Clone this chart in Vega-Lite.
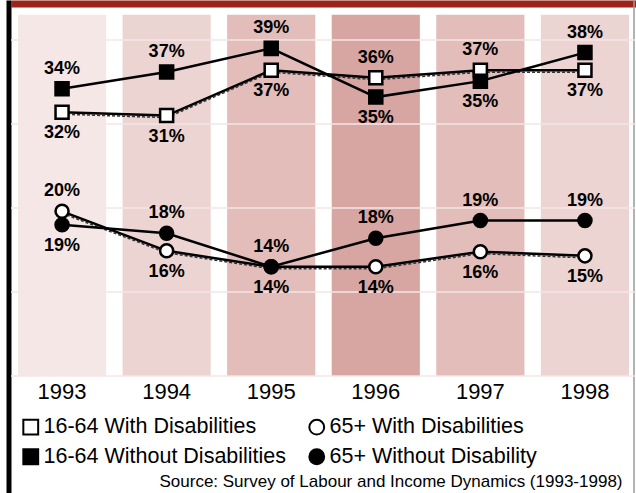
{
  "$schema": "https://vega.github.io/schema/vega-lite/v6.json",
  "width": 625,
  "height": 493,
  "autosize": {"type": "none"},
  "padding": {"left": 11, "top": 0, "right": 0, "bottom": 0},
  "background": "white",
  "config": {"view": {"stroke": null}, "font": "Liberation Sans"},
  "datasets": {
    "bands": [
      {"year": "1993", "shade": 1},
      {"year": "1994", "shade": 2},
      {"year": "1995", "shade": 3},
      {"year": "1996", "shade": 4},
      {"year": "1997", "shade": 3},
      {"year": "1998", "shade": 2}
    ],
    "grid": [{"g": 0}, {"g": 10}, {"g": 20}, {"g": 30}, {"g": 40}],
    "series": [
      {"year": "1993", "series": "16-64 With Disabilities", "value": 31.4, "label": "32%", "pos": "below"},
      {"year": "1994", "series": "16-64 With Disabilities", "value": 31.0, "label": "31%", "pos": "below"},
      {"year": "1995", "series": "16-64 With Disabilities", "value": 36.4, "label": "37%", "pos": "below"},
      {"year": "1996", "series": "16-64 With Disabilities", "value": 35.5, "label": "36%", "pos": "above"},
      {"year": "1997", "series": "16-64 With Disabilities", "value": 36.4, "label": "37%", "pos": "above"},
      {"year": "1998", "series": "16-64 With Disabilities", "value": 36.4, "label": "37%", "pos": "below"},
      {"year": "1993", "series": "65+ With Disabilities", "value": 19.6, "label": "20%", "pos": "above"},
      {"year": "1994", "series": "65+ With Disabilities", "value": 14.9, "label": "16%", "pos": "below"},
      {"year": "1995", "series": "65+ With Disabilities", "value": 13.0, "label": "14%", "pos": "above"},
      {"year": "1996", "series": "65+ With Disabilities", "value": 13.0, "label": "14%", "pos": "below"},
      {"year": "1997", "series": "65+ With Disabilities", "value": 14.8, "label": "16%", "pos": "below"},
      {"year": "1998", "series": "65+ With Disabilities", "value": 14.3, "label": "15%", "pos": "below"},
      {"year": "1993", "series": "16-64 Without Disabilities", "value": 34.2, "label": "34%", "pos": "above"},
      {"year": "1994", "series": "16-64 Without Disabilities", "value": 36.2, "label": "37%", "pos": "above"},
      {"year": "1995", "series": "16-64 Without Disabilities", "value": 39.0, "label": "39%", "pos": "above"},
      {"year": "1996", "series": "16-64 Without Disabilities", "value": 33.2, "label": "35%", "pos": "below"},
      {"year": "1997", "series": "16-64 Without Disabilities", "value": 35.1, "label": "35%", "pos": "below"},
      {"year": "1998", "series": "16-64 Without Disabilities", "value": 38.5, "label": "38%", "pos": "above"},
      {"year": "1993", "series": "65+ Without Disability", "value": 18.0, "label": "19%", "pos": "below"},
      {"year": "1994", "series": "65+ Without Disability", "value": 17.0, "label": "18%", "pos": "above"},
      {"year": "1995", "series": "65+ Without Disability", "value": 13.0, "label": "14%", "pos": "below"},
      {"year": "1996", "series": "65+ Without Disability", "value": 16.4, "label": "18%", "pos": "above"},
      {"year": "1997", "series": "65+ Without Disability", "value": 18.5, "label": "19%", "pos": "above"},
      {"year": "1998", "series": "65+ Without Disability", "value": 18.5, "label": "19%", "pos": "above"}
    ]
  },
  "resolve": {"axis": {"x": "independent", "y": "independent"}},
  "layer": [
    {
      "data": {"name": "bands"},
      "mark": {"type": "bar"},
      "encoding": {
        "x": {
          "field": "year", "type": "ordinal",
          "scale": {"paddingInner": 0.157, "paddingOuter": 0.0667},
          "axis": {
            "orient": "bottom", "offset": -117, "domain": false, "ticks": false, "tickSize": 0,
            "labelAngle": 0, "labelFontSize": 22, "labelColor": "black", "labelPadding": 5, "grid": false,
            "title": "Source: Survey of Labour and Income Dynamics (1993-1998)",
            "titleFontSize": 17, "titleFontWeight": "normal", "titleColor": "black",
            "titleX": 611, "titleY": 105, "titleAlign": "right", "titleBaseline": "middle"
          }
        },
        "y": {
          "datum": 43, "type": "quantitative",
          "scale": {"domain": [-13.93, 44.76], "nice": false, "zero": false},
          "axis": {"orient": "left", "offset": 2.5, "domainColor": "black", "domainWidth": 5, "labels": false, "ticks": false, "grid": false, "title": null}
        },
        "y2": {"datum": 0},
        "color": {
          "field": "shade", "type": "ordinal",
          "scale": {"domain": [1, 2, 3, 4], "range": ["#f4e7e6", "#ecd4d3", "#e2bdba", "#d7a6a2"]},
          "legend": null
        }
      }
    },
    {
      "data": {"name": "grid"},
      "mark": {"type": "rule", "color": "#f5e6e6", "strokeWidth": 1.5},
      "encoding": {
        "y": {
          "field": "g", "type": "quantitative",
          "scale": {"domain": [-13.93, 44.76], "nice": false, "zero": false},
          "axis": {"orient": "right", "offset": -2.5, "domainColor": "#9a9a9a", "domainWidth": 1.5, "labels": false, "ticks": false, "grid": false, "title": null}
        }
      }
    },
    {
      "data": {"name": "series"},
      "transform": [{"filter": "datum.series == '16-64 With Disabilities' || datum.series == '65+ With Disabilities'"}],
      "mark": {"type": "line", "color": "#333333", "strokeWidth": 1.5, "strokeDash": [3, 2], "yOffset": 2},
      "encoding": {
        "x": {"field": "year", "type": "ordinal", "axis": null},
        "y": {"field": "value", "type": "quantitative", "axis": null},
        "detail": {"field": "series"}
      }
    },
    {
      "data": {"name": "series"},
      "mark": {"type": "line", "color": "black", "strokeWidth": 2.5},
      "encoding": {
        "x": {
          "field": "year", "type": "ordinal",
          "axis": {"orient": "top", "offset": -3.5, "domainColor": "#9c2419", "domainWidth": 7, "labels": false, "ticks": false, "grid": false, "title": null}
        },
        "y": {"field": "value", "type": "quantitative", "scale": {"domain": [-13.93, 44.76], "nice": false, "zero": false}, "axis": null},
        "detail": {"field": "series"}
      }
    },
    {
      "data": {"name": "series"},
      "mark": {"type": "point", "filled": true, "strokeWidth": 2.5, "opacity": 1, "size": 170},
      "encoding": {
        "x": {"field": "year", "type": "ordinal", "axis": null},
        "y": {"field": "value", "type": "quantitative", "axis": null},
        "shape": {
          "field": "series", "type": "nominal",
          "scale": {"domain": ["16-64 With Disabilities", "16-64 Without Disabilities", "65+ With Disabilities", "65+ Without Disability"], "range": ["square", "square", "circle", "circle"]},
          "legend": {"orient": "none", "legendX": 9, "legendY": 416, "columns": 2, "title": null, "labelFontSize": 21.5, "labelColor": "black", "labelFont": "Liberation Sans", "labelLimit": 0, "symbolSize": 220, "symbolStrokeWidth": 2, "columnPadding": 18, "rowPadding": 6, "labelOffset": 2, "padding": 0, "offset": 0}
        },
        "fill": {
          "field": "series", "type": "nominal",
          "scale": {"domain": ["16-64 With Disabilities", "16-64 Without Disabilities", "65+ With Disabilities", "65+ Without Disability"], "range": ["white", "black", "white", "black"]},
          "legend": {"orient": "none", "legendX": 9, "legendY": 416, "columns": 2, "title": null, "labelFontSize": 21.5, "labelColor": "black", "labelFont": "Liberation Sans", "labelLimit": 0, "symbolSize": 220, "symbolStrokeWidth": 2, "columnPadding": 18, "rowPadding": 6, "labelOffset": 2, "padding": 0, "offset": 0}
        },
        "stroke": {
          "field": "series", "type": "nominal",
          "scale": {"domain": ["16-64 With Disabilities", "16-64 Without Disabilities", "65+ With Disabilities", "65+ Without Disability"], "range": ["black", "black", "black", "black"]},
          "legend": {"orient": "none", "legendX": 9, "legendY": 416, "columns": 2, "title": null, "labelFontSize": 21.5, "labelColor": "black", "labelFont": "Liberation Sans", "labelLimit": 0, "symbolSize": 220, "symbolStrokeWidth": 2, "columnPadding": 18, "rowPadding": 6, "labelOffset": 2, "padding": 0, "offset": 0}
        }
      }
    },
    {
      "data": {"name": "series"},
      "transform": [{"filter": "datum.pos == 'above'"}],
      "mark": {"type": "text", "dy": -20, "fontSize": 18, "fontWeight": "bold", "color": "black", "baseline": "middle"},
      "encoding": {
        "x": {"field": "year", "type": "ordinal", "axis": null},
        "y": {"field": "value", "type": "quantitative", "axis": null},
        "text": {"field": "label"}
      }
    },
    {
      "data": {"name": "series"},
      "transform": [{"filter": "datum.pos == 'below'"}],
      "mark": {"type": "text", "dy": 21, "fontSize": 18, "fontWeight": "bold", "color": "black", "baseline": "middle"},
      "encoding": {
        "x": {"field": "year", "type": "ordinal", "axis": null},
        "y": {"field": "value", "type": "quantitative", "axis": null},
        "text": {"field": "label"}
      }
    }
  ]
}
